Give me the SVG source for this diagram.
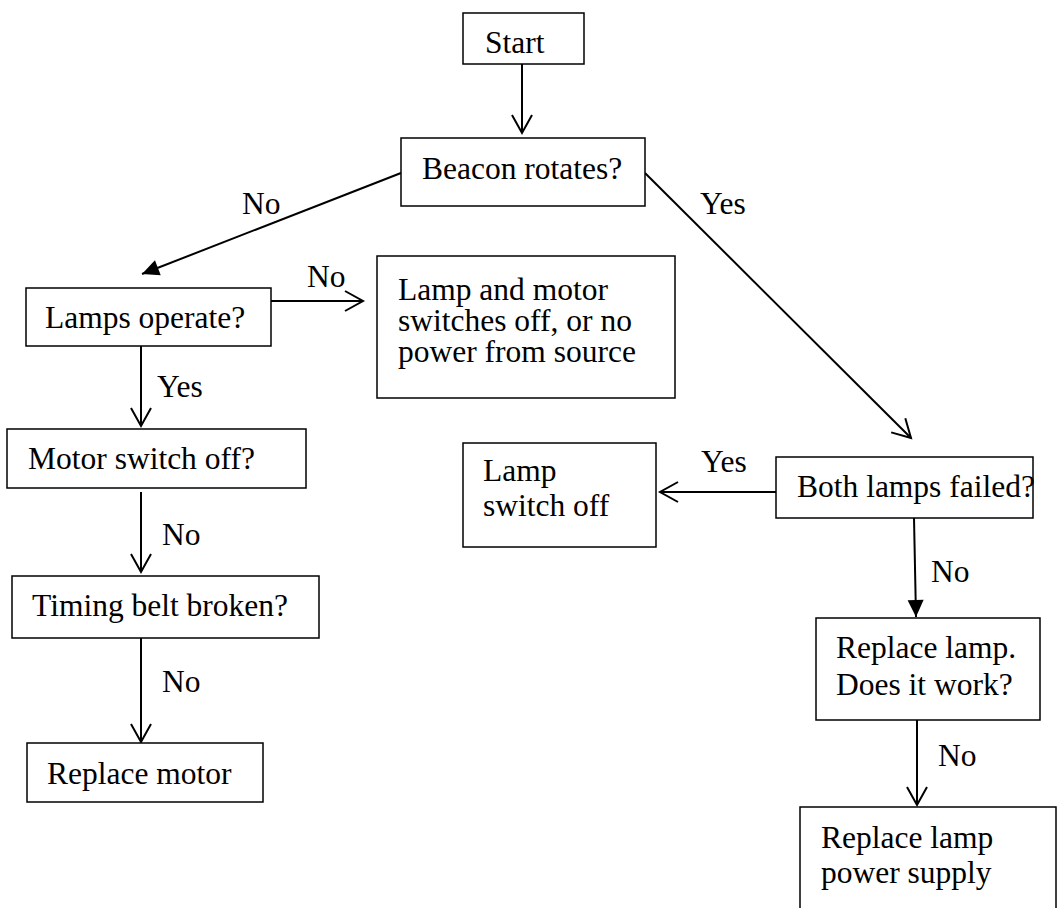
<svg xmlns="http://www.w3.org/2000/svg" width="1059" height="908" viewBox="0 0 1059 908">
<style>
.box{fill:#fff;stroke:#000;stroke-width:1.5}
.t{font-family:"Liberation Serif","Times New Roman",serif;font-size:31.5px;fill:#000}
.c{stroke:#000;stroke-width:2;fill:none}
.o{marker-end:url(#open)}
.f{marker-end:url(#filled)}
</style>
<defs>
<marker id="open" markerUnits="userSpaceOnUse" markerWidth="24" markerHeight="24" viewBox="-20 -12 24 24" refX="0" refY="0" orient="auto" overflow="visible">
<path d="M-18,-10 L0,0 L-18,10" fill="none" stroke="#000" stroke-width="2"/>
</marker>
<marker id="filled" markerUnits="userSpaceOnUse" markerWidth="24" markerHeight="24" viewBox="-20 -12 24 24" refX="0" refY="0" orient="auto" overflow="visible">
<path d="M-17,-8 L0,0 L-17,8 Z" fill="#000" stroke="none"/>
</marker>
</defs>
<rect width="1059" height="908" fill="#fff"/>
<g id="connectors">
<line class="c o" x1="522" y1="64" x2="522" y2="133"/>
<line class="c f" x1="401" y1="173" x2="142" y2="274"/>
<line class="c o" x1="271" y1="301" x2="363" y2="301"/>
<line class="c o" x1="141" y1="346" x2="141" y2="426"/>
<line class="c o" x1="141" y1="492" x2="141" y2="572"/>
<line class="c o" x1="141" y1="638" x2="141" y2="742"/>
<line class="c o" x1="645" y1="173" x2="911" y2="438"/>
<line class="c o" x1="776" y1="492" x2="660" y2="492"/>
<line class="c f" x1="914" y1="518" x2="916" y2="617"/>
<line class="c o" x1="917" y1="720" x2="917" y2="805"/>
<text class="t" x="242" y="214">No</text>
<text class="t" x="700" y="214">Yes</text>
<text class="t" x="307" y="287">No</text>
<text class="t" x="157" y="397">Yes</text>
<text class="t" x="162" y="545">No</text>
<text class="t" x="162" y="692">No</text>
<text class="t" x="701" y="472">Yes</text>
<text class="t" x="931" y="582">No</text>
<text class="t" x="938" y="766">No</text>
</g>
<g id="start"><rect class="box" x="463" y="13" width="121" height="51"/><text class="t" x="485" y="53">Start</text></g>
<g id="beacon"><rect class="box" x="401" y="138" width="244" height="68"/><text class="t" x="422" y="179">Beacon rotates?</text></g>
<g id="lamps-operate"><rect class="box" x="26" y="288" width="245" height="58"/><text class="t" x="45" y="328">Lamps operate?</text></g>
<g id="lamp-motor-off"><rect class="box" x="377" y="256" width="298" height="142"/><text class="t" x="398" y="300">Lamp and motor</text><text class="t" x="398" y="331">switches off, or no</text><text class="t" x="398" y="362">power from source</text></g>
<g id="motor-switch"><rect class="box" x="7" y="429" width="299" height="59"/><text class="t" x="28" y="469">Motor switch off?</text></g>
<g id="timing-belt"><rect class="box" x="12" y="576" width="307" height="62"/><text class="t" x="32" y="616">Timing belt broken?</text></g>
<g id="replace-motor"><rect class="box" x="27" y="743" width="236" height="59"/><text class="t" x="47" y="784">Replace motor</text></g>
<g id="lamp-switch-off"><rect class="box" x="463" y="443" width="193" height="104"/><text class="t" x="483" y="481">Lamp</text><text class="t" x="483" y="516">switch off</text></g>
<g id="both-lamps"><rect class="box" x="776" y="457" width="257" height="61"/><text class="t" x="797" y="497">Both lamps failed?</text></g>
<g id="replace-lamp"><rect class="box" x="816" y="618" width="224" height="102"/><text class="t" x="836" y="658">Replace lamp.</text><text class="t" x="836" y="695">Does it work?</text></g>
<g id="replace-psu"><rect class="box" x="800" y="807" width="256" height="120"/><text class="t" x="821" y="848">Replace lamp</text><text class="t" x="821" y="883">power supply</text></g>
</svg>
